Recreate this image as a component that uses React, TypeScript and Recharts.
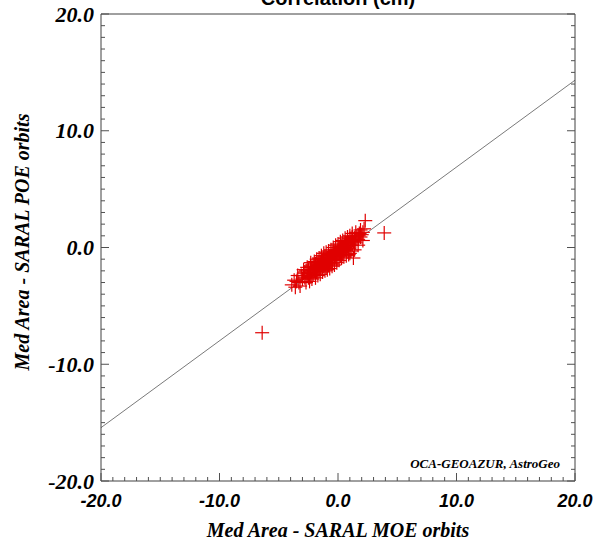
import React from 'react';
import { ScatterChart, Scatter, XAxis, YAxis, ReferenceLine } from 'recharts';

// MOE (x) vs POE (y) differences, cm
const moeValues = [
  -3.9, -3.5, -3.3, -3.1, -3.0, -2.9, -2.8, -2.7, -2.6, -2.5, -2.5, -2.4, -2.3, -2.3, -2.2, -2.1, -2.1,
  -2.0, -2.0, -1.9, -1.9, -1.8, -1.8, -1.7, -1.7, -1.6, -1.6, -1.5, -1.5, -1.4, -1.4, -1.3, -1.3,
  -1.2, -1.2, -1.1, -1.1, -1.0, -1.0, -0.9, -0.9, -0.8, -0.8, -0.8, -0.7, -0.7, -0.6, -0.6, -0.5,
  -0.5, -0.5, -0.4, -0.4, -0.3, -0.3, -0.2, -0.2, -0.1, -0.1, 0.0, 0.0, 0.1, 0.1, 0.2, 0.2, 0.3,
  0.3, 0.4, 0.4, 0.5, 0.5, 0.6, 0.6, 0.7, 0.7, 0.8, 0.9, 0.9, 1.0, 1.1, 1.2, 1.2, 1.3, 1.3, 1.4,
  1.5, 1.6, 1.7, 1.8, 1.9, 2.0, 2.1, 2.3, 3.9, -6.4,
  -3.4, -3.2, -2.9, -2.7, -2.6, -2.4, -2.3, -2.2, -2.0, -1.9, -1.8, -1.7, -1.6, -1.5, -1.4, -1.3,
  -1.2, -1.1, -1.0, -0.9, -0.8, -0.7, -0.6, -0.5, -0.4, -0.3, -0.2, -0.1, 0.0, 0.1, 0.2, 0.3, 0.4,
  0.5, 0.6, 0.7, 0.8, 0.9, 1.0, 1.1, 1.2, 1.4, 1.5, 1.7, 1.9, 2.1, -2.8, -2.5, -1.75, -1.25, -0.75,
  -0.25, 0.25, 0.75, 1.25, 1.75, 2.2, -3.6, -3.7, 1.0,
];
const poeValues = [
  -3.2, -2.9, -3.0, -2.4, -2.7, -2.2, -2.6, -2.0, -2.4, -1.9, -2.6, -2.2, -1.6, -2.5, -1.9, -2.3, -1.5,
  -2.0, -1.7, -2.2, -1.4, -1.8, -2.1, -1.3, -1.6, -2.0, -1.5, -1.2, -1.8, -1.5, -1.0, -1.9, -1.3,
  -1.1, -1.6, -0.8, -1.4, -1.2, -1.7, -0.9, -1.3, -0.6, -1.1, -1.5, -0.9, -1.3, -0.7, -1.1, -0.5,
  -1.0, -1.4, -0.8, -0.4, -1.0, -0.6, -0.3, -0.8, -0.5, -1.0, -0.2, -0.6, -0.4, 0.0, -0.7, -0.2, 0.1,
  -0.4, -0.1, -0.6, 0.2, -0.3, 0.0, 0.4, -0.2, 0.3, 0.1, 0.5, -0.1, 0.3, 0.7, 0.2, 0.9, 0.5, -0.9, 0.8,
  0.4, 1.0, 0.7, 1.2, 0.9, 1.1, 1.3, 2.3, 1.25, -7.3,
  -2.4, -3.3, -1.9, -3.0, -1.7, -2.9, -1.3, -2.7, -1.2, -2.6, -1.0, -2.4, -0.9, -2.3, -0.7, -2.1,
  -0.5, -2.0, -0.4, -1.9, -0.3, -1.8, -0.2, -1.6, 0.0, -1.5, 0.2, -1.3, 0.3, -1.1, 0.5, -0.9, 0.6,
  -0.8, 0.8, -0.7, 0.9, -0.6, 1.0, -0.3, 1.2, -0.2, 1.3, 0.2, 1.5, 0.6, -2.1, -2.2, -1.5, -1.0, -0.7,
  -0.3, 0.1, 0.4, 0.6, 1.0, 1.6, -3.4, -2.8, -0.5,
];

// regression line y = slope * x + intercept
const fitSlope = 0.744;
const fitIntercept = -0.55;

const axisRange = [-20, 20];
const majorTicks = [-20, -10, 0, 10, 20];
const minorTicks = [
  -20, -19, -18, -17, -16, -15, -14, -13, -12, -11, -10, -9, -8, -7, -6, -5, -4, -3, -2, -1, 0,
  1, 2, 3, 4, 5, 6, 7, 8, 9, 10, 11, 12, 13, 14, 15, 16, 17, 18, 19, 20,
];

const chartTitle = 'Correlation (cm)';
const xTitle = 'Med Area - SARAL MOE orbits';
const yTitle = 'Med Area - SARAL POE orbits';
const credit = 'OCA-GEOAZUR, AstroGeo';

const points = moeValues.map((x, i) => ({ x, y: poeValues[i] }));
const fitSegment = axisRange.map((x) => ({ x, y: fitSlope * x + fitIntercept }));

const TICK_COLOR = '#505050';
const SERIF = '"Liberation Serif", "Times New Roman", serif';
const SANS = '"Liberation Sans", Arial, sans-serif';

const isMajor = (v: number) => majorTicks.includes(v);

const BottomTick = (props: any) => {
  const { x, y, payload } = props;
  const len = isMajor(payload.value) ? 8 : 4;
  return (
    <g>
      <line x1={x} x2={x} y1={y} y2={y - len} stroke={TICK_COLOR} strokeWidth={1} />
      {isMajor(payload.value) && (
        <text x={x} y={y + 26} textAnchor="middle" fontFamily={SANS} fontWeight="bold" fontStyle="italic" fontSize={18} fill="#000">
          {payload.value.toFixed(1)}
        </text>
      )}
    </g>
  );
};

const TopTick = (props: any) => {
  const { x, y, payload } = props;
  const len = isMajor(payload.value) ? 8 : 4;
  return <line x1={x} x2={x} y1={y} y2={y + len} stroke={TICK_COLOR} strokeWidth={1} />;
};

const LeftTick = (props: any) => {
  const { x, y, payload } = props;
  const len = isMajor(payload.value) ? 8 : 4;
  return (
    <g>
      <line x1={x} x2={x + len} y1={y} y2={y} stroke={TICK_COLOR} strokeWidth={1} />
      {isMajor(payload.value) && (
        <text x={x - 7} y={y} dy="0.35em" textAnchor="end" fontFamily={SERIF} fontWeight="bold" fontStyle="italic" fontSize={22} fill="#000">
          {payload.value.toFixed(1)}
        </text>
      )}
    </g>
  );
};

const RightTick = (props: any) => {
  const { x, y, payload } = props;
  const len = isMajor(payload.value) ? 8 : 4;
  return <line x1={x} x2={x - len} y1={y} y2={y} stroke={TICK_COLOR} strokeWidth={1} />;
};

const Plus = (props: any) => {
  const { cx, cy } = props;
  const r = 7;
  return (
    <g stroke="#e00000" strokeWidth={1.2}>
      <line x1={cx - r} x2={cx + r} y1={cy} y2={cy} />
      <line x1={cx} x2={cx} y1={cy - r} y2={cy + r} />
    </g>
  );
};

const XTitle = () => (
  <text x={338} y={537} textAnchor="middle" fontFamily={SERIF} fontWeight="bold" fontStyle="italic" fontSize={20} fill="#000">
    {xTitle}
  </text>
);

const TopTitle = () => (
  <text x={338} y={5} textAnchor="middle" fontFamily={SANS} fontWeight="bold" fontSize={20} fill="#000">
    {chartTitle}
  </text>
);

const YTitle = () => (
  <text x={29} y={242} transform="rotate(-90, 29, 242)" textAnchor="middle" fontFamily={SERIF} fontWeight="bold" fontStyle="italic" fontSize={20} fill="#000">
    {yTitle}
  </text>
);

const Credit = () => (
  <text x={560} y={468} textAnchor="end" fontFamily={SERIF} fontWeight="bold" fontStyle="italic" fontSize={13} fill="#000">
    {credit}
  </text>
);

export default function App() {
  return (
    <div style={{ position: 'absolute', left: 0, top: 0, width: 594, height: 543, background: '#fff' }}>
      <ScatterChart width={594} height={543} margin={{ top: 13, right: 18, bottom: 61, left: 100 }}>
        <XAxis
          xAxisId="x" dataKey="x" type="number" domain={axisRange} ticks={minorTicks} interval={0}
          allowDataOverflow height={1} tickSize={0} tickMargin={0} tick={<BottomTick />} tickLine={false}
          axisLine={{ stroke: '#404040' }} label={<XTitle />}
        />
        <XAxis
          xAxisId="top" orientation="top" type="number" domain={axisRange} ticks={minorTicks} interval={0}
          allowDataOverflow height={1} tickSize={0} tickMargin={0} tick={<TopTick />} tickLine={false}
          axisLine={{ stroke: '#404040' }} label={<TopTitle />}
        />
        <YAxis
          yAxisId="y" dataKey="y" type="number" domain={axisRange} ticks={minorTicks} interval={0}
          allowDataOverflow width={1} tickSize={0} tickMargin={0} tick={<LeftTick />} tickLine={false}
          axisLine={{ stroke: '#404040' }} label={<YTitle />}
        />
        <YAxis
          yAxisId="right" orientation="right" type="number" domain={axisRange} ticks={minorTicks} interval={0}
          allowDataOverflow width={1} tickSize={0} tickMargin={0} tick={<RightTick />} tickLine={false}
          axisLine={{ stroke: '#404040' }} label={<Credit />}
        />
        <ReferenceLine xAxisId="x" yAxisId="y" segment={fitSegment} stroke="#7a7a7a" strokeWidth={1} ifOverflow="visible" />
        <Scatter xAxisId="x" yAxisId="y" data={points} shape={<Plus />} isAnimationActive={false} />
      </ScatterChart>
    </div>
  );
}
